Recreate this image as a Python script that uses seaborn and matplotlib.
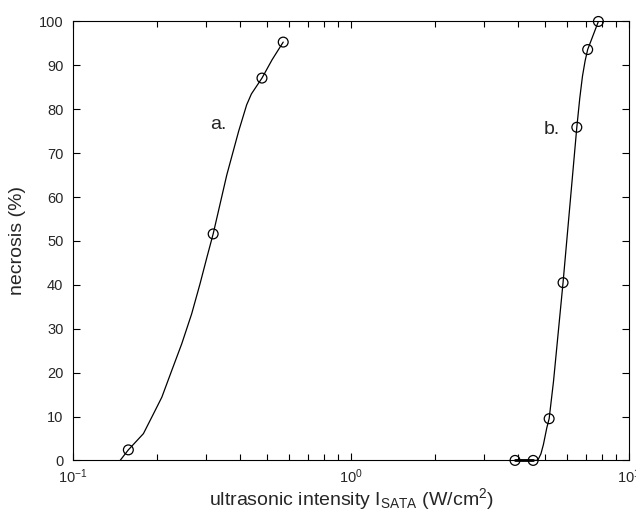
import numpy as np
import pandas as pd
import matplotlib
matplotlib.use("Agg")
import matplotlib.pyplot as plt
import seaborn as sns

# measured points (intensity W/cm2, necrosis %)
a_x = [0.158, 0.319, 0.478, 0.570]
a_y = [2.4, 51.6, 87.1, 95.3]

b_x = [3.89, 4.52, 5.16, 5.79, 6.49, 7.10, 7.76]
b_y = [0.0, 0.0, 9.5, 40.5, 75.9, 93.6, 100.0]

# fitted curves
fit_a_x = [0.1476, 0.158, 0.179, 0.1945, 0.2085, 0.2264, 0.246, 0.267, 0.286,
           0.303, 0.319, 0.357, 0.394, 0.421, 0.438, 0.478, 0.52, 0.570]
fit_a_y = [0.0, 2.4, 6.1, 10.6, 14.4, 20.5, 26.6, 33.4, 40.2,
           46.3, 51.6, 65.0, 75.0, 81.0, 83.5, 87.1, 91.3, 95.3]

fit_b_x = [3.89, 4.52, 4.65, 4.72, 4.82, 4.92, 5.06, 5.16, 5.35, 5.79,
           6.49, 6.65, 6.80, 6.95, 7.10, 7.76, 7.95]
fit_b_y = [0.0, 0.0, 0.0, 0.3, 1.5, 3.6, 7.4, 9.5, 18.0, 40.5,
           75.9, 82.5, 87.5, 91.0, 93.6, 100.0, 103.0]

label_a = ("a.", 0.311, 76.5)
label_b = ("b.", 4.92, 75.5)

sns.set_style("ticks")
plt.rcParams["font.family"] = ["Liberation Sans", "DejaVu Sans"]
plt.rcParams["mathtext.fontset"] = "custom"
plt.rcParams["mathtext.rm"] = "Liberation Sans"
plt.rcParams["mathtext.it"] = "Liberation Sans:italic"

fig = plt.figure(figsize=(6.36, 5.11), dpi=100)
ax = fig.add_axes([0.115, 0.099, 0.874, 0.859])

fit_a = pd.DataFrame({"x": fit_a_x, "y": fit_a_y})
fit_b = pd.DataFrame({"x": fit_b_x, "y": fit_b_y})
pts = pd.DataFrame({"x": a_x + b_x, "y": a_y + b_y})

sns.lineplot(data=fit_a, x="x", y="y", sort=False, estimator=None,
             color="black", linewidth=0.9, ax=ax)
sns.lineplot(data=fit_b, x="x", y="y", sort=False, estimator=None,
             color="black", linewidth=0.9, ax=ax)
ax.plot(b_x[:2], b_y[:2], color="black", linewidth=2.0, clip_on=False)
sns.scatterplot(data=pts, x="x", y="y", marker="o", s=50,
                facecolor="none", edgecolor="black", linewidth=0.9,
                zorder=5, clip_on=False, ax=ax)

ax.set_xscale("log")
ax.set_xlim(0.1, 10)
ax.set_ylim(0, 100)
ax.set_yticks(np.arange(0, 101, 10))

for txt, tx, ty in [label_a, label_b]:
    ax.text(tx, ty, txt, fontsize=14, ha="left", va="center")

ax.set_xlabel(r"ultrasonic intensity I$_{\mathrm{SATA}}$ (W/cm$^{2}$)",
              fontsize=14, labelpad=0)
ax.set_ylabel("necrosis (%)", fontsize=14, labelpad=9)

ax.tick_params(which="both", direction="in", top=True, right=True,
               labelsize=10.5, width=0.8, color="black")
ax.tick_params(axis="x", which="both", pad=5)
ax.tick_params(axis="y", which="both", pad=7)
ax.tick_params(which="major", length=5)
ax.tick_params(which="minor", length=4)
for s in ax.spines.values():
    s.set_linewidth(0.8)
    s.set_color("black")

fig.savefig("out.png", dpi=100)
